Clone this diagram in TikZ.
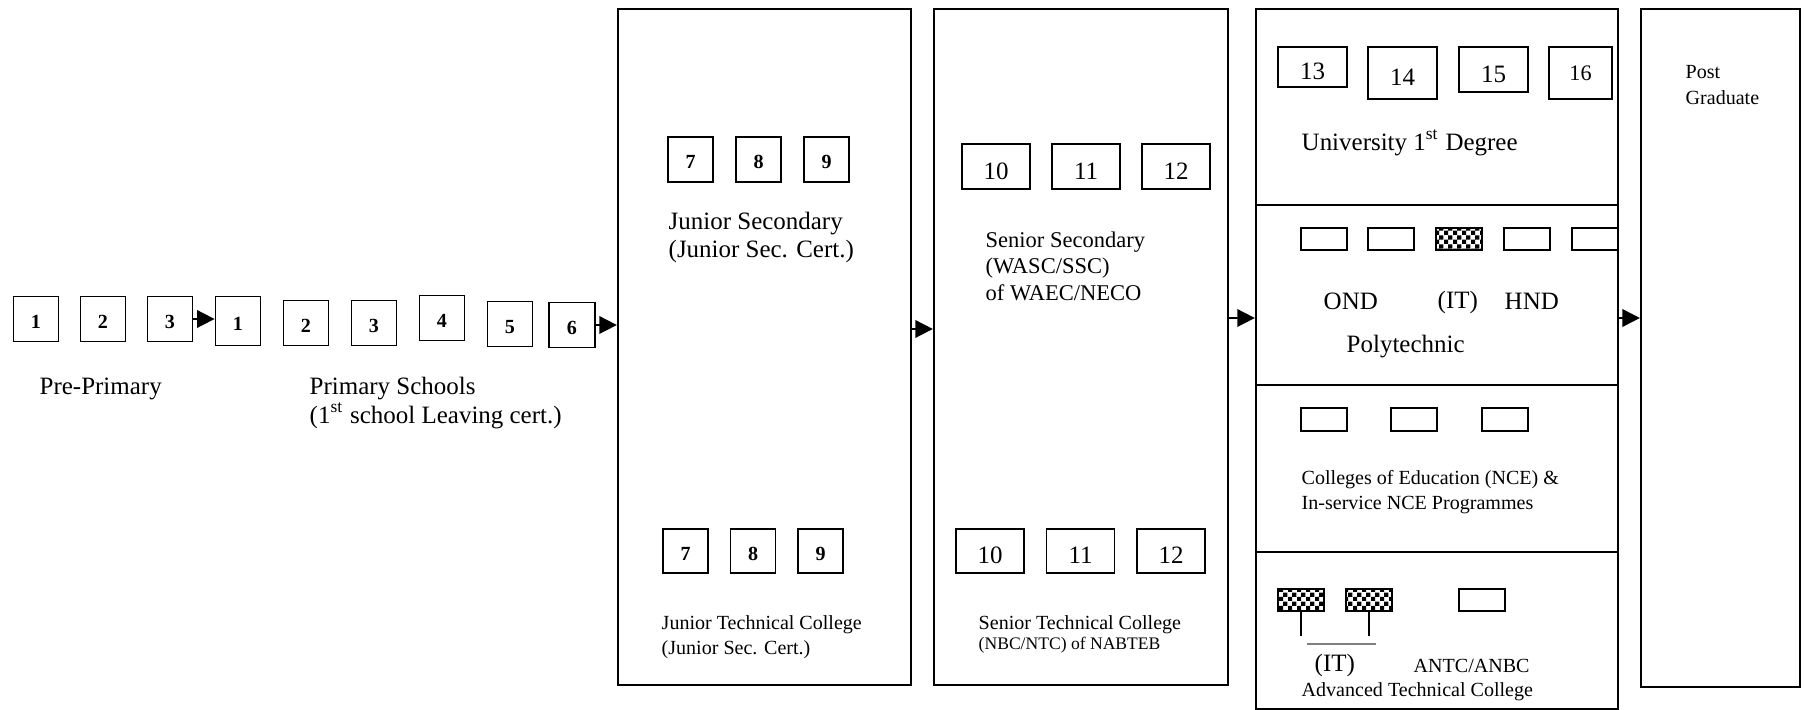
\documentclass[tikz,border=0pt]{standalone}
\usepackage{fontspec}
\setmainfont{Liberation Serif}
\usetikzlibrary{arrows.meta,patterns}

\pgfdeclarepatternformonly{smallchecks}{\pgfpointorigin}{\pgfqpoint{2.6pt}{2.6pt}}{\pgfqpoint{2.6pt}{2.6pt}}{%
  \pgfpathrectangle{\pgfpointorigin}{\pgfqpoint{1.3pt}{1.3pt}}%
  \pgfpathrectangle{\pgfqpoint{1.3pt}{1.3pt}}{\pgfqpoint{1.3pt}{1.3pt}}%
  \pgfusepath{fill}}

\newcommand{\bigtxt}{\fontsize{7.1}{8.2}\selectfont}
\newcommand{\smtxt}{\fontsize{5.7}{7.2}\selectfont}

\begin{document}
\begin{tikzpicture}[x=0.01cm, y=-0.01cm,
		n/.style={draw, line width=.5pt, inner sep=0, minimum width=.45cm, minimum height=.45cm, text height=5.4pt, text depth=0pt, font=\smtxt\bfseries},
		yr/.style={n, minimum width=.68cm, text height=7.3pt, font=\bigtxt},
		sm/.style={draw, line width=.5pt, inner sep=0, minimum width=.46cm, minimum height=.22cm},
		chk/.style={sm, pattern=smallchecks},
		blk/.style={draw, line width=.6pt, inner sep=0},
		lbl/.style={anchor=west, inner sep=0, align=left, font=\bigtxt},
		lbls/.style={lbl, font=\smtxt},
		arr/.style={-{Triangle[length=5pt,width=5pt]}, line width=.5pt}]
			\useasboundingbox (0,0) rectangle (1804,710);

			% pre-primary and primary
			\node[n] (a1) at (36, 319) {1};
			\node[n] (a2) at (103, 319) {2};
			\node[n] (a3) at (170, 319) {3};
			\node[n, minimum height=.49cm] (p1) at (238, 321) {1};
			\node[n] (p2) at (306, 323) {2};
			\node[n] (p3) at (374, 323) {3};
			\node[n] (p4) at (442, 318) {4};
			\node[n] (p5) at (510, 324) {5};
			\node[n, minimum width=.46cm] (p6) at (572, 325) {6};
			\node[lbl] (pre) at (39, 388.5) {Pre-Primary};
			\node[lbl] (pri) at (309, 403) {Primary Schools\\(1\textsuperscript{st} school Leaving cert.)};

			% junior secondary
			\node[blk, minimum width=2.93cm, minimum height=6.76cm] (js) at (764.5, 347) {};
			\node[n] (j7) at (690.5, 159.5) {7};
			\node[n] (j8) at (758.5, 159.5) {8};
			\node[n] (j9) at (826.5, 159.5) {9};
			\node[lbl] (jst) at (668, 237.5) {Junior Secondary\\(Junior Sec. Cert.)};
			\node[n, minimum height=.44cm] (k7) at (685.5, 551) {7};
			\node[n, minimum height=.44cm] (k8) at (753, 551) {8};
			\node[n, minimum height=.44cm] (k9) at (820.5, 551) {9};
			\node[lbls] (jtc) at (661, 637) {Junior Technical College\\(Junior Sec. Cert.)};

			% senior secondary
			\node[blk, minimum width=2.94cm, minimum height=6.76cm] (ss) at (1081, 347) {};
			\node[yr] (s10) at (996, 166.5) {10};
			\node[yr] (s11) at (1086, 166.5) {11};
			\node[yr] (s12) at (1176, 166.5) {12};
			\node[lbl, font=\fontsize{6.4}{7.5}\selectfont] (sst) at (985, 266) {Senior Secondary\\(WASC/SSC)\\of WAEC/NECO};
			\node[yr, minimum height=.44cm] (r10) at (990, 551) {10};
			\node[yr, minimum height=.44cm] (r11) at (1080.5, 551) {11};
			\node[yr, minimum height=.44cm] (r12) at (1171, 551) {12};
			\node[lbls] (stc) at (978, 624.5) {Senior Technical College};
			\node[lbls, font=\fontsize{5}{6}\selectfont] (nab) at (978, 645) {(NBC/NTC) of NABTEB};

			% tertiary
			\node[blk, minimum width=3.62cm, minimum height=1.96cm] (uni) at (1437, 107) {};
			\node[blk, minimum width=3.62cm, minimum height=1.80cm] (poly) at (1437, 295) {};
			\node[blk, minimum width=3.62cm, minimum height=1.67cm] (nce) at (1437, 468.5) {};
			\node[blk, minimum width=3.62cm, minimum height=1.57cm] (atc) at (1437, 630.5) {};

			\node[yr, minimum width=.69cm, minimum height=.40cm] (u13) at (1312.5, 67) {13};
			\node[yr, minimum width=.69cm, minimum height=.52cm] (u14) at (1402.5, 73) {14};
			\node[yr, minimum width=.69cm, minimum height=.45cm] (u15) at (1493.5, 69.5) {15};
			\node[yr, minimum width=.63cm, minimum height=.52cm, text height=4.4pt, font=\fontsize{6.3}{7}\selectfont] (u16) at (1580.5, 73) {16};
			\node[lbl] (unit) at (1301, 143) {University 1\textsuperscript{st} Degree};

			\node[sm] (o1) at (1324, 239) {};
			\node[sm] (o2) at (1391, 239) {};
			\node[chk] (o3) at (1459, 239) {};
			\node[sm] (o4) at (1527, 239) {};
			\node[sm] (o5) at (1595, 239) {};
			\node[lbl] (ond) at (1323, 301) {OND};
			\node[lbl] (it1) at (1437, 302) {(IT)};
			\node[lbl] (hnd) at (1504, 301) {HND};
			\node[lbl] (polyt) at (1346, 347) {Polytechnic};

			\node[sm, minimum height=.23cm] (e1) at (1324, 419.5) {};
			\node[sm, minimum height=.23cm] (e2) at (1414, 419.5) {};
			\node[sm, minimum height=.23cm] (e3) at (1505, 419.5) {};
			\node[lbls] (ncet) at (1301, 492) {Colleges of Education (NCE) \&\\In-service NCE Programmes};

			\node[chk] (c1) at (1301, 600) {};
			\node[chk] (c2) at (1369, 600) {};
			\node[sm] (c3) at (1482, 600) {};
			\draw[line width=.5pt] (c1.south) -- +(0, 24);
			\draw[line width=.5pt] (c2.south) -- +(0, 24);
			\draw[gray, line width=.5pt] (1307, 644) -- (1376, 644);
			\node[lbl] (it2) at (1314, 665) {(IT)};
			\node[lbls] (antc) at (1413, 666) {ANTC/ANBC};
			\node[lbls] (atct) at (1301, 692) {Advanced Technical College};

			% post graduate
			\node[blk, minimum width=1.59cm, minimum height=6.78cm] (pg) at (1720.5, 348) {};
			\node[lbls] (pgt) at (1685, 85) {Post\\Graduate};

			% arrows
			\draw[arr] (a3.east) -- (a3.east -| p1.west);
			\draw[arr] (p6.east) -- (p6.east -| js.west);
			\draw[arr] ([yshift=.18cm]js.east) -- ([yshift=.18cm]ss.west);
			\draw[arr] ([yshift=.29cm]ss.east) -- ([yshift=-.23cm]poly.west);
			\draw[arr] ([yshift=-.23cm]poly.east) -- ([yshift=.30cm]pg.west);
		\end{tikzpicture}
\end{document}
